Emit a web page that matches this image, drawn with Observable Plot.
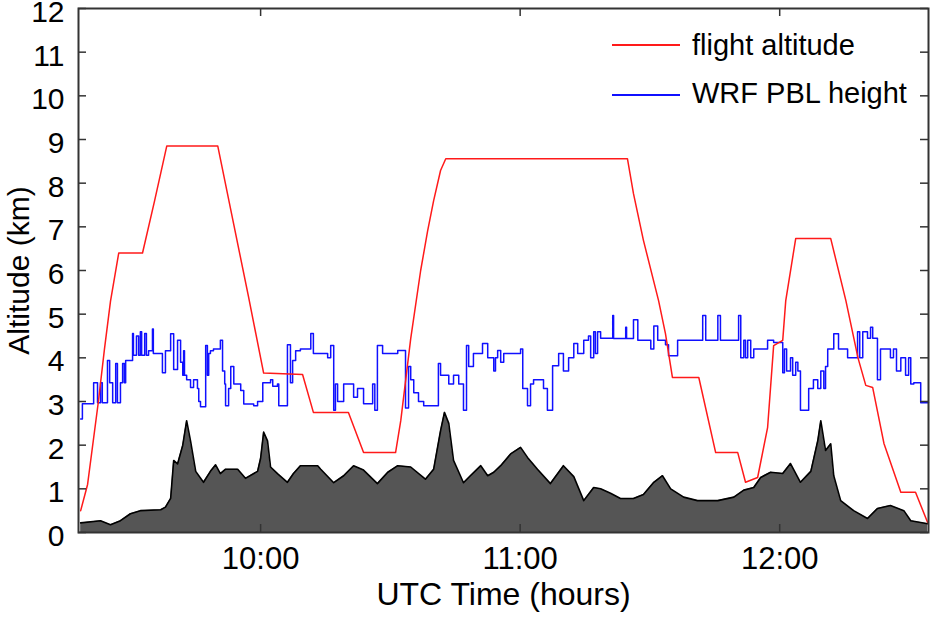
<!DOCTYPE html>
<html>
<head>
<meta charset="utf-8">
<script src="https://cdn.jsdelivr.net/npm/d3@7"></script>
<script src="https://cdn.jsdelivr.net/npm/@observablehq/plot@0.6"></script>
<style>
  html, body { margin: 0; padding: 0; background: #fff; }
  #wrap { position: relative; width: 932px; height: 621px; font-family: "Liberation Sans", Arial, sans-serif; }
  .lg { position: absolute; font-size: 29px; line-height: 28px; color: #000; white-space: nowrap; }
  .sw { position: absolute; height: 2px; width: 68px; }
</style>
</head>
<body>
<div id="wrap"></div>
<script>
// time in minutes after 09:00 UTC, values in km
const xDomain = [17.9, 214.4];
const yDomain = [0, 12];
const yTicks = [0,1,2,3,4,5,6,7,8,9,10,11,12];
const xTicks = [60, 120, 180];
const xTickLabels = ["10:00", "11:00", "12:00"];
const xLabel = "UTC Time (hours)";
const yLabel = "Altitude (km)";
const seriesNames = ["flight altitude", "WRF PBL height"];

const flightAltitude = [[18.4,0.5],[20.0,1.1],[22.5,3.0],[23.9,4.2],[25.3,5.3],[27.2,6.4],[32.7,6.4],[35.5,7.6],[38.3,8.85],[50.1,8.85],[53.8,7.05],[57.2,5.4],[60.7,3.65],[69.7,3.62],[72.2,2.75],[80.3,2.75],[83.8,1.83],[91.2,1.83],[92.4,2.56],[94.7,4.44],[97.0,6.0],[98.6,6.9],[100.0,7.6],[101.6,8.29],[102.8,8.56],[144.8,8.56],[146.2,7.76],[148.5,6.69],[152.0,5.31],[153.6,4.55],[155.2,3.55],[161.3,3.55],[165.2,1.83],[170.3,1.83],[172.1,1.15],[174.9,1.26],[177.2,2.4],[178.6,4.28],[180.7,4.4],[181.4,5.31],[183.7,6.73],[191.8,6.73],[195.3,5.31],[198.1,4.0],[199.9,3.37],[201.5,3.32],[204.1,2.04],[208.0,0.92],[211.4,0.92],[214.2,0.23]];

const pblHeight = [[18.4,2.6],[18.8,2.95],[21.4,3.43],[22.3,2.97],[23.0,3.43],[23.4,2.97],[24.6,3.94],[25.1,3.43],[25.8,2.97],[26.5,3.87],[26.9,2.97],[27.6,3.43],[28.1,3.87],[28.5,3.43],[28.8,3.94],[30.4,4.56],[30.6,4.06],[31.3,4.5],[31.8,4.06],[32.2,4.6],[32.5,4.06],[33.2,4.56],[33.6,4.06],[34.1,4.16],[35.0,4.66],[35.2,4.1],[37.3,3.66],[38.0,4.16],[39.2,4.55],[39.9,3.73],[40.8,4.4],[41.5,3.9],[42.0,3.6],[42.2,4.16],[42.4,3.6],[42.9,3.5],[43.8,3.32],[44.5,3.5],[45.4,3.3],[45.7,3.0],[46.1,2.88],[47.3,4.28],[47.7,3.6],[48.0,4.1],[48.4,4.16],[49.1,4.2],[50.7,4.4],[51.2,3.7],[51.7,3.4],[51.9,2.9],[52.6,3.3],[53.1,3.8],[53.8,3.4],[55.4,3.25],[56.1,2.94],[58.4,2.9],[59.3,3.0],[60.5,3.43],[62.3,3.5],[62.8,3.35],[63.9,3.4],[64.2,2.9],[66.2,4.3],[66.9,3.43],[67.4,3.94],[68.1,4.16],[69.2,4.2],[71.6,4.56],[72.2,4.1],[75.5,4.0],[76.2,4.28],[76.9,2.8],[77.3,3.4],[77.8,3.0],[79.2,3.4],[81.5,3.1],[82.4,3.3],[83.8,2.95],[85.9,3.4],[86.4,2.8],[87.0,4.28],[88.2,4.1],[91.7,4.17],[93.5,2.85],[94.2,3.8],[94.7,3.5],[95.4,3.2],[96.5,3.0],[97.7,2.9],[101.1,3.87],[101.6,3.6],[103.5,3.4],[104.6,3.6],[105.8,3.4],[106.9,2.8],[107.6,4.28],[108.1,3.8],[109.2,4.1],[111.3,4.33],[112.5,4.0],[113.9,3.7],[114.3,4.0],[114.8,4.17],[115.5,3.9],[116.2,4.1],[120.1,4.2],[120.6,3.3],[121.7,2.9],[122.4,3.4],[123.1,3.5],[125.4,3.3],[126.3,2.8],[127.5,3.82],[128.9,4.1],[130.0,3.7],[131.2,4.0],[132.4,4.33],[133.3,4.1],[134.7,4.4],[135.8,4.5],[136.3,4.0],[137.0,4.6],[137.4,4.1],[137.9,4.6],[138.6,4.45],[141.4,4.97],[141.6,4.44],[144.4,4.7],[144.6,4.44],[146.2,4.87],[147.2,4.4],[150.2,4.2],[150.9,4.73],[151.8,4.4],[153.6,4.3],[154.3,4.05],[156.4,4.4],[162.2,4.97],[162.9,4.4],[165.7,4.97],[166.3,4.4],[170.5,4.97],[171.0,4.0],[171.7,4.4],[172.1,4.0],[172.6,4.4],[173.3,4.0],[174.0,4.2],[177.2,4.4],[178.6,4.35],[180.7,3.66],[181.1,4.2],[181.6,3.7],[182.5,4.0],[183.0,3.6],[183.7,3.9],[184.2,3.7],[184.8,2.8],[186.7,3.3],[187.8,3.5],[188.8,3.3],[189.5,3.7],[190.2,3.3],[190.6,3.8],[191.1,4.2],[192.5,4.55],[193.6,4.2],[195.7,4.0],[198.0,4.6],[198.5,4.0],[199.2,4.6],[200.3,4.45],[201.0,4.7],[201.5,4.45],[202.6,3.5],[203.3,4.2],[205.6,4.0],[206.3,4.2],[207.0,3.7],[208.0,4.0],[209.1,3.6],[209.8,4.0],[210.3,3.4],[211.0,3.43],[212.6,2.97],[214.4,2.97]];

const shadedProfile = [[18.4,0.22],[23.0,0.27],[25.3,0.18],[27.6,0.27],[29.9,0.43],[32.2,0.5],[36.9,0.52],[38.0,0.58],[39.2,0.78],[39.9,1.65],[40.8,1.57],[42.0,2.0],[42.9,2.56],[43.8,2.1],[45.0,1.4],[46.8,1.15],[48.4,1.4],[49.6,1.55],[50.7,1.35],[51.9,1.45],[54.7,1.45],[56.5,1.24],[59.3,1.4],[60.0,1.7],[60.7,2.3],[61.6,2.1],[62.3,1.5],[63.9,1.35],[66.2,1.15],[67.6,1.35],[69.2,1.53],[73.2,1.53],[73.9,1.45],[76.9,1.14],[79.2,1.3],[81.5,1.53],[83.8,1.43],[87.0,1.12],[89.4,1.38],[91.7,1.53],[94.7,1.5],[98.1,1.22],[100.0,1.45],[101.6,2.33],[102.5,2.75],[103.5,2.5],[104.6,1.65],[106.9,1.14],[108.5,1.3],[110.9,1.53],[112.5,1.3],[113.9,1.38],[115.5,1.53],[117.8,1.8],[120.1,1.95],[121.7,1.72],[124.0,1.45],[127.0,1.12],[130.0,1.53],[132.4,1.28],[134.7,0.73],[137.0,1.03],[138.6,1.0],[140.9,0.9],[143.2,0.78],[146.2,0.78],[148.5,0.87],[150.9,1.15],[152.9,1.3],[154.8,1.0],[157.8,0.81],[161.0,0.73],[165.7,0.73],[169.4,0.81],[171.7,0.97],[174.0,1.03],[175.6,1.26],[177.9,1.38],[180.7,1.35],[182.5,1.58],[184.8,1.15],[187.2,1.4],[188.8,2.1],[189.5,2.56],[190.6,1.88],[191.8,2.03],[192.5,1.3],[194.1,0.73],[197.1,0.5],[200.3,0.32],[202.6,0.55],[205.6,0.62],[208.7,0.5],[210.3,0.27],[214.2,0.2]];

const colors = { flight: "#ff1a1a", pbl: "#1010ff", shade: "#555555", frame: "#333333" };

const W = 932, H = 621;
const mL = 78, mR = 4, mT = 8, mB = 89;
const pw = W - mL - mR, ph = H - mT - mB;
const tk = 8;

const chart = Plot.plot({
  width: W, height: H,
  marginLeft: mL, marginRight: mR, marginTop: mT, marginBottom: mB,
  style: { fontFamily: "Liberation Sans, Arial, sans-serif", background: "#fff", color: "#000", overflow: "visible" },
  x: { domain: xDomain },
  y: { domain: yDomain },
  marks: [
    Plot.areaY(shadedProfile, { x: d => d[0], y: d => d[1], fill: colors.shade }),
    Plot.lineY(shadedProfile, { x: d => d[0], y: d => d[1], stroke: "#000", strokeWidth: 1.6 }),
    Plot.lineY(pblHeight, { x: d => d[0], y: d => d[1], curve: "step-after", stroke: colors.pbl, strokeWidth: 1.5 }),
    Plot.lineY(flightAltitude, { x: d => d[0], y: d => d[1], stroke: colors.flight, strokeWidth: 1.5 }),
    Plot.tickY(yTicks, { y: d => d, insetRight: pw - tk, stroke: colors.frame, strokeWidth: 1.5 }),
    Plot.tickY(yTicks, { y: d => d, insetLeft: pw - tk, stroke: colors.frame, strokeWidth: 1.5 }),
    Plot.tickX(xTicks, { x: d => d, insetTop: ph - tk, stroke: colors.frame, strokeWidth: 1.5 }),
    Plot.tickX(xTicks, { x: d => d, insetBottom: ph - tk, stroke: colors.frame, strokeWidth: 1.5 }),
    Plot.frame({ stroke: colors.frame, strokeWidth: 2 }),
    Plot.axisY({ ticks: yTicks, tickSize: 0, tickPadding: 14, fontSize: 30, dy: 4, label: null }),
    Plot.axisX({ ticks: xTicks, tickFormat: d => xTickLabels[xTicks.indexOf(d)], tickSize: 0, tickPadding: 14, fontSize: 31, label: null }),
    Plot.text([yLabel], { frameAnchor: "left", textAnchor: "middle", rotate: -90, dx: -59, fontSize: 30 }),
    Plot.text([xLabel], { frameAnchor: "bottom", textAnchor: "middle", dy: 72, fontSize: 32 })
  ]
});

const wrap = document.getElementById("wrap");
wrap.appendChild(chart);

// legend overlay
const legendItems = [
  { name: seriesNames[0], color: colors.flight, top: 31, lineTop: 44 },
  { name: seriesNames[1], color: colors.pbl, top: 79, lineTop: 94 }
];
for (const it of legendItems) {
  const sw = document.createElement("div");
  sw.className = "sw";
  sw.style.left = "612px";
  sw.style.top = it.lineTop + "px";
  sw.style.background = it.color;
  wrap.appendChild(sw);
  const tx = document.createElement("div");
  tx.className = "lg";
  tx.style.left = "692px";
  tx.style.top = it.top + "px";
  tx.textContent = it.name;
  wrap.appendChild(tx);
}
</script>
</body>
</html>
